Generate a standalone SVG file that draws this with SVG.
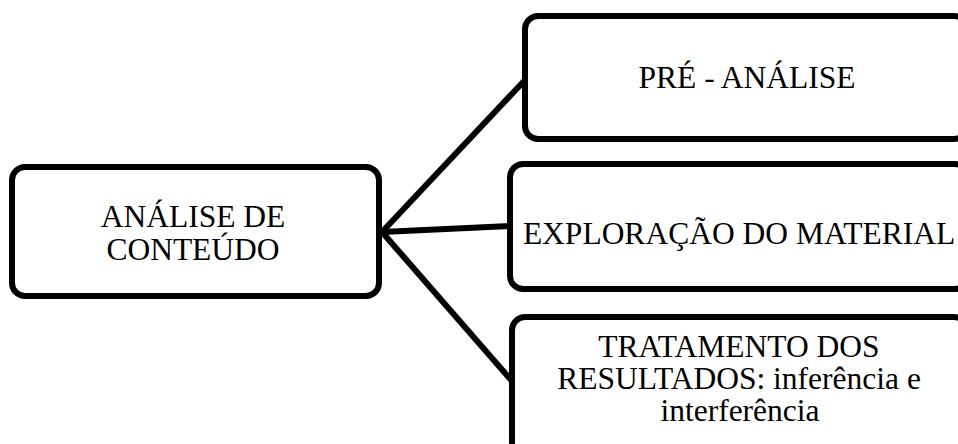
<svg xmlns="http://www.w3.org/2000/svg" width="958" height="444" viewBox="0 0 958 444">
<style>
.box{fill:#fff;stroke:#000;stroke-width:6}
.conn{stroke:#000;stroke-width:6;fill:none}
text{font-family:"Liberation Serif","Times New Roman",serif;font-size:31.5px;fill:#000;text-anchor:middle}
</style>
<rect width="958" height="444" fill="#fff"/>
<g id="connectors">
<path class="conn" d="M382,232 L525,80"/>
<path class="conn" d="M382,232 L510,226"/>
<path class="conn" d="M382,232 L512,381"/>
</g>
<g id="node-analise">
<rect class="box" x="12" y="167" width="367" height="129" rx="13"/>
<text x="193" y="227">ANÁLISE DE</text>
<text x="193" y="260">CONTEÚDO</text>
</g>
<g id="node-pre">
<rect class="box" x="525" y="16" width="442" height="123" rx="13"/>
<text x="747" y="88">PRÉ - ANÁLISE</text>
</g>
<g id="node-exploracao">
<rect class="box" x="510" y="164" width="458" height="125" rx="13"/>
<text x="739" y="244">EXPLORAÇÃO DO MATERIAL</text>
</g>
<g id="node-tratamento">
<rect class="box" x="512" y="317" width="455" height="150" rx="13"/>
<text x="739" y="357">TRATAMENTO DOS</text>
<text x="739" y="389">RESULTADOS: inferência e</text>
<text x="740" y="421">interferência</text>
</g>
</svg>
